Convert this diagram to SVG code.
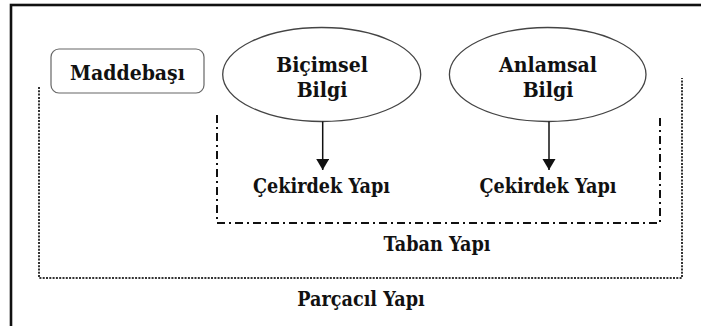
<svg xmlns="http://www.w3.org/2000/svg" width="701" height="326" viewBox="0 0 701 326">
<defs>
<style>
.txt{font-family:'DejaVu Serif',serif;font-stretch:condensed;font-weight:700;fill:#111;text-anchor:middle}
.t24{font-size:21px}
.t22{font-size:19.6px}
.ell{fill:#fff;stroke:#444;stroke-width:1.3}
.dot{fill:none;stroke:#333;stroke-width:2;stroke-dasharray:2 1.3}
.dd{fill:none;stroke:#111;stroke-width:2;stroke-dasharray:8 4 2 4}
.conn{stroke:#111;stroke-width:1.5;fill:none}
</style>
<marker id="ah" markerWidth="14" markerHeight="14" refX="11" refY="6.5" orient="auto" markerUnits="userSpaceOnUse">
<path d="M0,0 L11,6.5 L0,13 Z" fill="#111"/>
</marker>
</defs>
<rect x="0" y="0" width="701" height="326" fill="#fff"/>
<rect x="11" y="5" width="700" height="330" fill="none" stroke="#111" stroke-width="2.6"/>
<g id="parcacil-yapi">
<path class="dot" d="M39,87 V278 H682 V78"/>
<text class="txt t22" x="361" y="306">Parçacıl Yapı</text>
</g>
<g id="taban-yapi">
<path class="dd" d="M217,115 V223 H660 V115"/>
<text class="txt t22" x="437" y="251">Taban Yapı</text>
</g>
<g id="maddebasi">
<rect x="51" y="49" width="153" height="44" rx="8" fill="#fff" stroke="#666" stroke-width="1.2"/>
<text class="txt t24" x="127.5" y="80">Maddebaşı</text>
</g>
<g id="bicimsel-bilgi">
<ellipse class="ell" cx="321.7" cy="74.5" rx="99" ry="47"/>
<text class="txt t24" x="322" y="71.5">Biçimsel</text>
<text class="txt t24" x="322" y="96.5">Bilgi</text>
</g>
<g id="anlamsal-bilgi">
<ellipse class="ell" cx="547.7" cy="74.5" rx="98.3" ry="47"/>
<text class="txt t24" x="548" y="71.5">Anlamsal</text>
<text class="txt t24" x="548" y="96.5">Bilgi</text>
</g>
<g id="cekirdek-yapi-1">
<text class="txt t22" x="321.5" y="192.5">Çekirdek Yapı</text>
</g>
<g id="cekirdek-yapi-2">
<text class="txt t22" x="548" y="192.5">Çekirdek Yapı</text>
</g>
<g id="connectors">
<line class="conn" x1="322.7" y1="121.5" x2="322.7" y2="170" marker-end="url(#ah)"/>
<line class="conn" x1="549" y1="121.5" x2="549" y2="170" marker-end="url(#ah)"/>
</g>
</svg>
